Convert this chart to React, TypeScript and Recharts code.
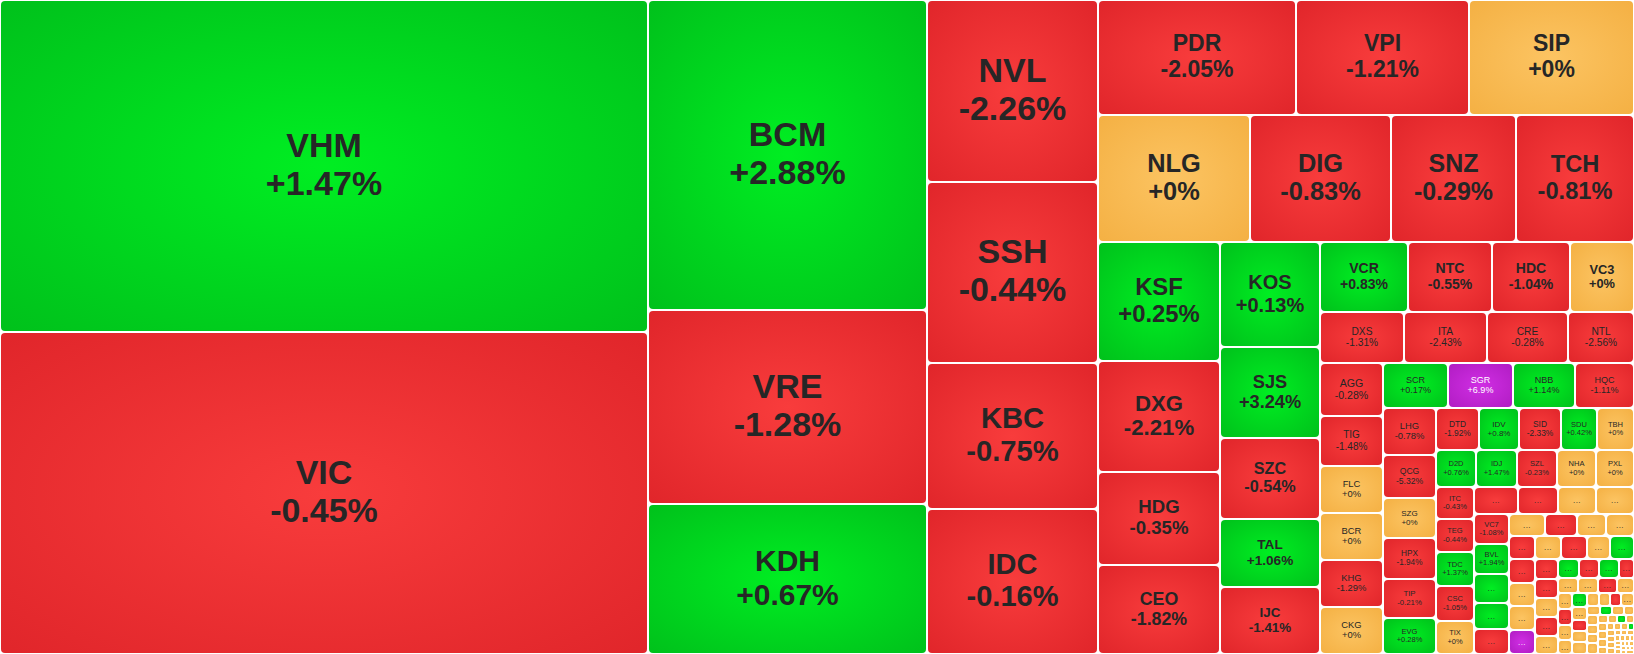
import { Treemap } from 'recharts'

// real-estate sector heatmap: ticker, size (market value), % change
// an empty ticker is one of the tiny tiles the source only marks with "..."
const tickers = [
  'VHM', 'VIC',
  'BCM', 'VRE', 'KDH',
  'NVL', 'SSH', 'KBC', 'IDC',
  'PDR', 'VPI', 'SIP',
  'NLG', 'DIG', 'SNZ', 'TCH',
  'KSF', 'DXG', 'HDG', 'CEO',
  'KOS', 'SJS', 'SZC', 'TAL', 'IJC',
  'VCR', 'NTC', 'HDC', 'VC3',
  'DXS', 'ITA', 'CRE', 'NTL',
  'AGG', 'TIG', 'FLC', 'BCR', 'KHG', 'CKG',
  'SCR', 'SGR', 'NBB', 'HQC',
  'LHG', 'QCG', 'SZG', 'HPX', 'TIP', 'EVG',
  'DTD', 'IDV', 'SID', 'SDU', 'TBH',
  'D2D', 'IDJ', 'SZL', 'NHA', 'PXL',
  'ITC', 'TEG', 'TDC', 'CSC', 'TIX',
  '', '', '', '',
  'VC7', 'BVL', '', '', '',
  '', '', '', '',
  '', '', '', '', '',
  '', '', '', '',
  // tiny tail
  '', '', '', '', '', '', '', '', '', '', '', '', '', '', '', '', '',
  '', '', '', '', '', '', '', '', '', '', '', '', '', '', '', '', '',
  '', '', '', '', '', '', '', '', '', '', '', '', '', '', '', '', '',
  '', '', '', '', '', '', '', '', '', '', '', '', '', '', '', '', '',
]

const sizes = [
  214800, 208330,
  86630, 53990, 41850,
  31190, 31000, 24950, 24770,
  22690, 19940, 18910,
  19300, 17910, 15880, 15110,
  14400, 13550, 11300, 10800,
  10500, 9060, 8140, 6760, 6740,
  6160, 5880, 5390, 4480,
  4280, 4180, 4130, 3320,
  3340, 3150, 2960, 2960, 2960, 2960,
  2880, 2920, 2740, 2650,
  2500, 2240, 2130, 2130, 2030, 1920,
  1810, 1680, 1760, 1470, 1550,
  1480, 1520, 1480, 1410, 1410,
  1220, 1260, 1260, 1300, 1260,
  1190, 1080, 1030, 1030,
  1085, 1085, 1015, 945, 875,
  792, 704, 638, 616,
  624, 624, 624, 624, 650,
  598, 598, 529, 552,
  460, 450, 440, 430, 400, 395, 390, 380, 310, 300, 295, 290, 285, 225, 220, 215, 210,
  205, 200, 165, 160, 158, 155, 150, 148, 145, 115, 112, 110, 108, 105, 104, 102, 100,
  78, 76, 75, 74, 72, 71, 70, 68, 52, 51, 50, 49, 48, 47, 46, 45, 32,
  31, 30, 30, 29, 28, 28, 27, 26, 21, 20, 20, 19, 19, 18, 18, 17, 16,
]

const changes = [
  1.47, -0.45,
  2.88, -1.28, 0.67,
  -2.26, -0.44, -0.75, -0.16,
  -2.05, -1.21, 0,
  0, -0.83, -0.29, -0.81,
  0.25, -2.21, -0.35, -1.82,
  0.13, 3.24, -0.54, 1.06, -1.41,
  0.83, -0.55, -1.04, 0,
  -1.31, -2.43, -0.28, -2.56,
  -0.28, -1.48, 0, 0, -1.29, 0,
  0.17, 6.9, 1.14, -1.11,
  -0.78, -5.32, 0, -1.94, -0.21, 0.28,
  -1.92, 0.8, -2.33, 0.42, 0,
  0.76, 1.47, -0.23, 0, 0,
  -0.43, -0.44, 1.37, -1.05, 0,
  -1, -1, 0, 0,
  -1.08, 1.94, 1, 1, -1,
  0, -1, 0, 0,
  -1, -1, 0, 0, 6.9,
  0, -1, 0, 1,
  -1, -1, 0, -1, 0, 1, -1, 1, -1, 0, 0, -1, 0, 0, -1, 0, 0,
  1, 0, -1, 0, 0, 0, 0, -1, 0, 0, 1, 0, 0, 0, 0, 0, 0,
  0, 0, 1, 0, 0, 0, 0, 0, 0, 0, 0, 1, 0, 0, 0, 0, 0,
  0, 0, 0, 0, 0, 0, 0, 0, 0, 0, 0, 0, 0, 0, 0, 0, 0,
]

// how many tickers sit in each strip of the source layout, in order
const stripCounts = [2, 3, 4, 3, 4, 4, 5, 4, 4, 6, 4, 6, 5, 5, 5, 4, 5, 4, 5, 4]

const palette: Record<string, [string, string]> = {
  up: ['#00ee22', '#00c01b'],
  down: ['#f83c3c', '#e0252a'],
  flat: ['#fcc462', '#f4b043'],
  ceil: ['#d02ee4', '#b01cc2'],
}

const tone = (c: number) => (c >= 6.9 ? 'ceil' : c > 0 ? 'up' : c < 0 ? 'down' : 'flat')

type Node = { name: string; value?: number; change?: number; children?: Node[] }

// a zero-sized leaf closes the current squarify row, so each strip keeps its tiles
const stop = (): Node => ({ name: '', value: 0, change: 0 })
const chain = (items: Node[]): Node =>
  items.length === 1 ? items[0] : { name: '', children: [items[0], stop(), chain(items.slice(1))] }

const leaves: Node[] = tickers.map((name, i) => ({ name, value: sizes[i], change: changes[i] }))
const strips: Node[] = []
let at = 0
for (const n of stripCounts) {
  strips.push(chain(leaves.slice(at, at + n)))
  at += n
}
strips.push({ name: '', children: leaves.slice(at) })
const data = [chain(strips)]

const font = "'Liberation Sans', Arial, Helvetica, sans-serif"

function renderTile(props: any) {
  const { x, y, width, height, depth, name, change, children } = props
  if (depth === 0) {
    return (
      <defs>
        {Object.entries(palette).map(([k, [c0, c1]]) => (
          <radialGradient key={k} id={`hm-${k}`} cx="50%" cy="50%" r="72%">
            <stop offset="0%" stopColor={c0} />
            <stop offset="100%" stopColor={c1} />
          </radialGradient>
        ))}
      </defs>
    )
  }
  if ((children && children.length) || width <= 2 || height <= 2) return <g />
  const t = tone(change)
  const w = width - 2
  const h = height - 2
  const r = Math.min(4, w / 5, h / 5)
  const m = Math.min(width, height)
  const cx = x + width / 2
  const cy = y + height / 2
  const ink = t === 'ceil' ? '#ffffff' : '#262626'
  let label = null
  if (name && m >= 30) {
    const fs = Math.max(7.5, Math.min(34, m * 0.2))
    const b1 = cy - 0.27 * fs
    const txt = `${change >= 0 ? '+' : ''}${change}%`
    label = (
      <g fill={ink} stroke="none" fontSize={fs} fontWeight={fs >= 12 ? 'bold' : 'normal'}
        textAnchor="middle" fontFamily={font}>
        <text x={cx} y={b1}>{name}</text>
        <text x={cx} y={b1 + 1.12 * fs}>{txt}</text>
      </g>
    )
  } else if (m >= 13) {
    label = (
      <text x={cx} y={cy + 2.5} fill={ink} stroke="none" fontSize={8} textAnchor="middle"
        letterSpacing={0.5} fontFamily={font}>...</text>
    )
  }
  return (
    <g>
      <rect x={x + 1} y={y + 1} width={w} height={h} rx={r} ry={r} fill={`url(#hm-${t})`} stroke="none" />
      {label}
    </g>
  )
}

export default function App() {
  return (
    <div style={{ width: 1634, height: 654, background: '#fff' }}>
      <style>{'body{margin:0}'}</style>
      <Treemap
        width={1634}
        height={654}
        data={data}
        dataKey="value"
        nameKey="name"
        aspectRatio={1}
        isAnimationActive={false}
        content={renderTile}
      />
    </div>
  )
}
